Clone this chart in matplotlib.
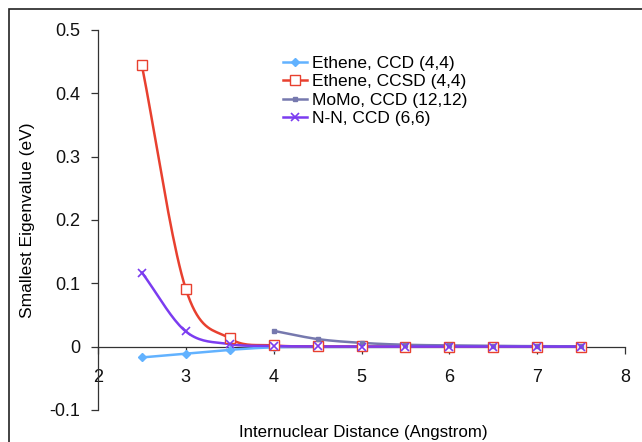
import numpy as np
import matplotlib
matplotlib.use("Agg")
import matplotlib.pyplot as plt
from matplotlib.patches import Rectangle

plt.rcParams['font.family'] = ['Liberation Sans', 'DejaVu Sans']

x_all = [2.5, 3.0, 3.5, 4.0, 4.5, 5.0, 5.5, 6.0, 6.5, 7.0, 7.5]
ethene_ccd = [-0.017, -0.011, -0.005, -0.001, -0.0005, -0.0003, -0.0002, -0.0001, -0.0001, -0.0001, -0.0001]
ethene_ccsd = [0.444, 0.091, 0.013, 0.002, 0.0005, 0.0003, 0.0002, 0.0001, 0.0001, 0.0001, 0.0001]
x_momo = [4.0, 4.5, 5.0, 5.5, 6.0, 6.5, 7.0, 7.5]
momo_ccd = [0.025, 0.012, 0.006, 0.003, 0.002, 0.0012, 0.0008, 0.0005]
nn_ccd = [0.117, 0.024, 0.004, 0.001, 0.0003, 0.0002, 0.0001, 0.0001, 0.0001, 0.0001, 0.0001]

labels = ["Ethene, CCD (4,4)", "Ethene, CCSD (4,4)", "MoMo, CCD (12,12)", "N-N, CCD (6,6)"]
xlabel = "Internuclear Distance (Angstrom)"
ylabel = "Smallest Eigenvalue (eV)"


def smooth(xs, ys, n=20):
    xs = np.asarray(xs, float); ys = np.asarray(ys, float)
    P = np.column_stack([xs, ys])
    P = np.vstack([P[0] - (P[1] - P[0]), P, P[-1] + (P[-1] - P[-2])])
    out = []
    t = np.linspace(0, 1, n, endpoint=False)[:, None]
    for i in range(1, len(P) - 2):
        p0, p1, p2, p3 = P[i - 1], P[i], P[i + 1], P[i + 2]
        seg = 0.5 * ((2 * p1) + (-p0 + p2) * t + (2 * p0 - 5 * p1 + 4 * p2 - p3) * t ** 2
                     + (-p0 + 3 * p1 - 3 * p2 + p3) * t ** 3)
        out.append(seg)
    out.append(P[-2][None, :])
    out = np.vstack(out)
    return out[:, 0], out[:, 1]


fig = plt.figure(figsize=(6.42, 4.42), dpi=100)
ax = fig.add_axes([98 / 642, 1 - 410 / 442, (625 - 98) / 642, (410 - 30) / 442])

series = [
    (x_all, ethene_ccd, '#62B2FF', dict(marker='D', ms=4, mfc='#62B2FF', mec='#62B2FF')),
    (x_all, ethene_ccsd, '#E8402F', dict(marker='s', ms=7, mfc='white', mec='#E8402F', mew=1.0)),
    (x_momo, momo_ccd, '#7679AE', dict(marker='s', ms=3, mfc='#7679AE', mec='#7679AE')),
    (x_all, nn_ccd, '#7B3CF0', dict(marker='x', ms=6, mfc='#7B3CF0', mec='#7B3CF0', mew=1.2)),
]
for (xs, ys, c, mk), lab in zip(series, labels):
    sx, sy = smooth(xs, ys)
    ax.plot(sx, sy, color=c, lw=1.8, zorder=3)
    ax.plot(xs, ys, ls='none', color=c, zorder=4, **mk)
    ax.plot([], [], color=c, lw=1.8, label=lab, **mk)

ax.set_xlim(2, 8)
ax.set_ylim(-0.1, 0.5)
ax.set_xticks(range(2, 9))
ax.set_yticks([-0.1, 0, 0.1, 0.2, 0.3, 0.4, 0.5])
ax.set_yticklabels(['-0.1', '0', '0.1', '0.2', '0.3', '0.4', '0.5'])
ax.spines['top'].set_visible(False)
ax.spines['right'].set_visible(False)
ax.spines['bottom'].set_position(('data', 0))
for s in ['left', 'bottom']:
    ax.spines[s].set_color('#333333')
    ax.spines[s].set_linewidth(0.9)
ax.tick_params(axis='both', direction='out', length=5, width=0.9, color='#333333',
               labelsize=13, labelcolor='#111111')
ax.tick_params(axis='x', pad=11)
ax.tick_params(axis='y', pad=8)

ax.set_ylabel(ylabel, fontsize=12.5, labelpad=10)
fig.text(363 / 642, 1 - 432 / 442, xlabel, ha='center', va='center', fontsize=12.2)

ax.legend(loc='upper left', bbox_to_anchor=((276 - 98) / 527, 1 - (49 - 30) / 380), frameon=False,
          fontsize=12.5, handlelength=1.4, handletextpad=0.3, labelspacing=0.18, borderaxespad=0)

fig.patches.append(Rectangle((9 / 642, -0.5), 2, 1 - 9 / 442 + 0.5, transform=fig.transFigure,
                             fill=False, ec='#222222', lw=1.2))

fig.savefig('out.png', dpi=100)
